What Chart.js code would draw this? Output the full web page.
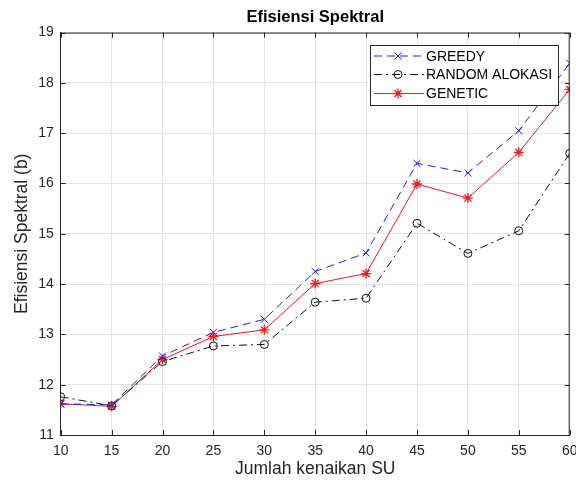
<!DOCTYPE html>
<html><head><meta charset="utf-8">
<script src="https://cdn.jsdelivr.net/npm/chart.js@4.4.1/dist/chart.umd.min.js"></script>
<style>html,body{margin:0;padding:0;background:#fff;} #wrap{width:576px;height:484px;position:relative;}</style>
</head><body><div id="wrap"><canvas id="c"></canvas></div>
<script>
const categories = [10, 15, 20, 25, 30, 35, 40, 45, 50, 55, 60];
const greedy = [11.62, 11.60, 12.57, 13.04, 13.30, 14.25, 14.62, 16.40, 16.21, 17.05, 18.39];
const randomAlokasi = [11.76, 11.58, 12.46, 12.77, 12.80, 13.64, 13.72, 15.21, 14.61, 15.06, 16.60];
const genetic = [11.62, 11.57, 12.50, 12.96, 13.09, 14.01, 14.21, 15.99, 15.71, 16.62, 17.87];
const seriesNames = ['GREEDY', 'RANDOM ALOKASI', 'GENETIC'];
const chartTitle = 'Efisiensi Spektral';
const xTitle = 'Jumlah kenaikan SU';
const yTitle = 'Efisiensi Spektral (b)';

const FONT = '"Liberation Sans", Arial, Helvetica, sans-serif';
const AX = '#262626';
const styles = [
  {color: '#2020e6', dash: [8, 5], point: 'crossRot', r: 5, pw: 1, fill: '#2020e6'},
  {color: '#111111', dash: [8, 4, 2, 4], point: 'circle', r: 4, pw: 1, fill: 'rgba(0,0,0,0)'},
  {color: '#ea1c24', dash: [], point: 'star', r: 5, pw: 1.3, fill: '#ea1c24'}
];

function pts(vals) { return categories.map((c, i) => ({x: c, y: vals[i]})); }

const datasets = [greedy, randomAlokasi, genetic].map((vals, i) => ({
  label: seriesNames[i], data: pts(vals),
  borderColor: styles[i].color, backgroundColor: styles[i].fill,
  borderWidth: 1, borderDash: styles[i].dash,
  pointStyle: styles[i].point, pointRadius: styles[i].r, pointBorderWidth: styles[i].pw,
  pointBorderColor: styles[i].color, pointBackgroundColor: styles[i].fill
}));

const decor = {
  id: 'decor',
  afterDraw(chart) {
    const ctx = chart.ctx, a = chart.chartArea;
    const xs = chart.scales.x, ys = chart.scales.y;
    ctx.save();
    ctx.strokeStyle = AX; ctx.lineWidth = 1; ctx.setLineDash([]);
    ctx.beginPath();
    ctx.moveTo(a.left, a.top + 0.5); ctx.lineTo(a.right, a.top + 0.5);
    ctx.moveTo(a.right - 0.5, a.top); ctx.lineTo(a.right - 0.5, a.bottom);
    ctx.stroke();
    const tl = 5;
    ctx.beginPath();
    xs.ticks.forEach(t => {
      const px = Math.round(xs.getPixelForValue(t.value)) + 0.5;
      ctx.moveTo(px, a.bottom); ctx.lineTo(px, a.bottom - tl);
      ctx.moveTo(px, a.top); ctx.lineTo(px, a.top + tl);
    });
    ys.ticks.forEach(t => {
      const py = Math.round(ys.getPixelForValue(t.value)) + 0.5;
      ctx.moveTo(a.left, py); ctx.lineTo(a.left + tl, py);
      ctx.moveTo(a.right, py); ctx.lineTo(a.right - tl, py);
    });
    ctx.stroke();
    ctx.fillStyle = '#000';
    ctx.font = 'bold 16.5px ' + FONT;
    ctx.textAlign = 'center'; ctx.textBaseline = 'middle';
    ctx.fillText(chartTitle, (a.left + a.right) / 2, 17.5);
    const bx = 370, by = 45, bw = 188, bh = 60;
    ctx.fillStyle = '#fff';
    ctx.fillRect(bx, by, bw, bh);
    ctx.strokeStyle = AX; ctx.lineWidth = 1;
    ctx.strokeRect(bx + 0.5, by + 0.5, bw, bh);
    const rows = [56, 74.5, 93.5];
    ctx.font = '14px ' + FONT;
    ctx.textAlign = 'left';
    seriesNames.forEach((name, i) => {
      const st = styles[i], y = rows[i];
      ctx.strokeStyle = st.color; ctx.lineWidth = 1;
      ctx.setLineDash(st.dash);
      ctx.beginPath(); ctx.moveTo(374, y); ctx.lineTo(424, y); ctx.stroke();
      ctx.setLineDash([]);
      ctx.strokeStyle = st.color; ctx.fillStyle = st.fill; ctx.lineWidth = st.pw;
      Chart.helpers.drawPoint(ctx, {pointStyle: st.point, radius: st.r, borderWidth: st.pw}, 398, y);
      ctx.fillStyle = '#000';
      ctx.fillText(name, 426, y + 1);
    });
    ctx.restore();
  }
};

new Chart(document.getElementById('c'), {
  type: 'line',
  data: {datasets},
  options: {
    responsive: true, maintainAspectRatio: false, animation: false,
    layout: {padding: {top: 32.6, right: 6, left: 0, bottom: 0}},
    plugins: {legend: {display: false}, title: {display: false}, tooltip: {enabled: false}},
    elements: {line: {tension: 0}},
    scales: {
      x: {type: 'linear', min: 10, max: 60,
        ticks: {stepSize: 5, color: AX, font: {family: FONT, size: 14}, padding: 8, maxRotation: 0, autoSkip: false},
        grid: {color: '#e3e3e3', drawTicks: false},
        border: {display: true, color: AX},
        title: {display: true, text: xTitle, color: AX, font: {family: FONT, size: 17.5}, padding: {top: 0, bottom: 4}},
        afterFit(s) { s.height = 49; s.paddingLeft = 0; s.paddingRight = 0; }
      },
      y: {type: 'linear', min: 11, max: 19,
        ticks: {stepSize: 1, color: AX, font: {family: FONT, size: 14}, padding: 7},
        grid: {color: '#e3e3e3', drawTicks: false},
        border: {display: true, color: AX},
        title: {display: true, text: yTitle, color: AX, font: {family: FONT, size: 17.5}, padding: {top: 12, bottom: 0}},
        afterFit(s) { s.width = 60.7; s.paddingTop = 0; s.paddingBottom = 0; }
      }
    }
  },
  plugins: [decor]
});
</script>
</body></html>
